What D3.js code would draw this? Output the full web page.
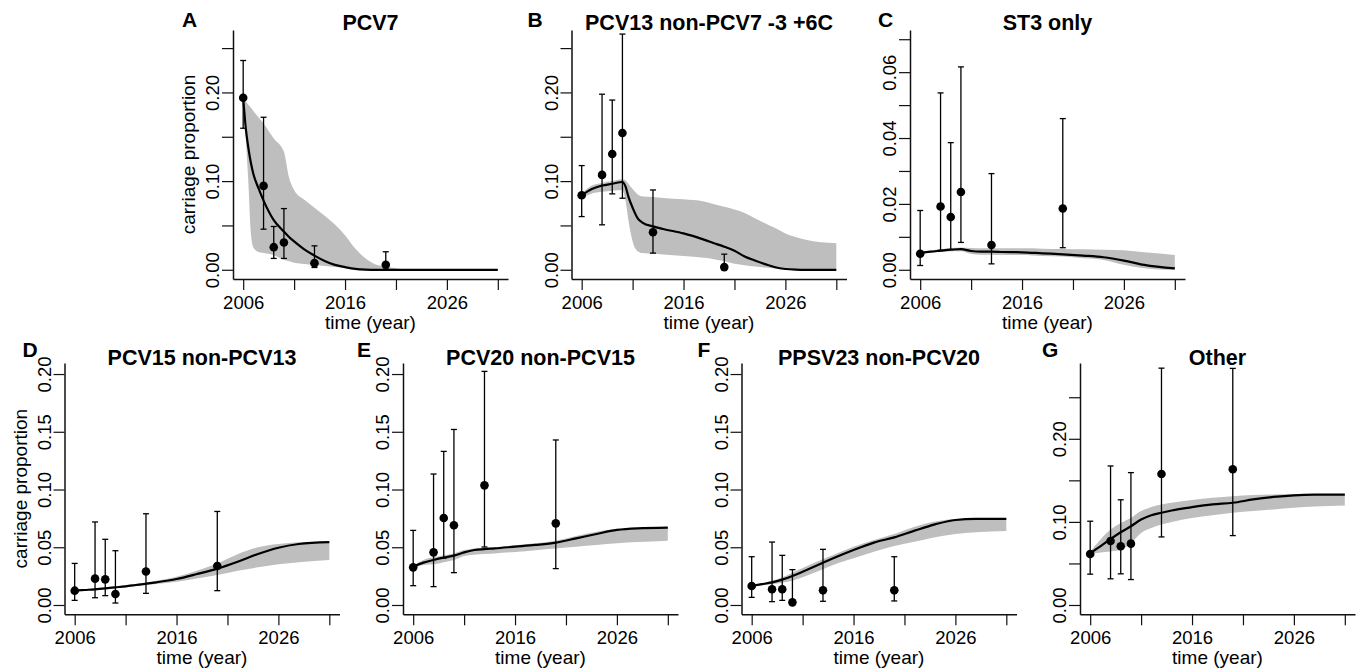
<!DOCTYPE html>
<html>
<head>
<meta charset="utf-8">
<script src="https://cdn.jsdelivr.net/npm/d3@7"></script>
<style>
  body { margin: 0; background: #fff; }
  text { font-family: "Liberation Sans", Arial, sans-serif; }
</style>
</head>
<body>
<div id="chart"></div>
<script>
// survey years with observed carriage
const obsYears = [2006, 2008, 2009, 2010, 2013, 2020];

// model time grids
const gridA = [2006, 2006.25, 2006.5, 2006.75, 2007, 2007.5, 2008, 2009, 2010, 2010.5, 2011, 2012, 2013, 2014, 2015, 2016, 2017, 2018, 2019, 2020, 2021, 2022, 2024, 2031];
const gridB = [2006, 2007, 2008, 2009, 2010, 2010.3, 2010.6, 2011, 2011.5, 2012, 2013, 2014, 2016, 2018, 2019, 2020, 2021, 2022, 2023, 2024, 2025, 2026, 2027, 2028, 2031];
const gridS = [2006, 2007, 2008, 2009, 2010, 2011, 2012, 2013, 2014, 2016, 2018, 2020, 2022, 2024, 2026, 2028, 2031];

// A: PCV7
const medA = [.194, .160, .138, .121, .108, .092, .078, .056, .043, .037, .032, .023, .016, .010, .0055, .003, .001, .0002, 0, 0, 0, 0, 0, 0];
const upA  = [.194, .190, .186, .183, .179, .172, .165, .148, .133, .104, .090, .079, .070, .061, .051, .039, .024, .013, .006, .0038, .0018, .0005, 0, 0];
const loA  = [.194, .150, .100, .042, .025, .020, .0188, .0165, .0113, .0095, .008, .0065, .0055, .0043, .003, .0019, .0012, .0006, .0001, 0, 0, 0, 0, 0];
const obsA = [.194, .0946, .0255, .0308, .0075, .0056];
const obsLoA = [.1596, .0458, .0128, .0128, .0026, .0008];
const obsHiA = [.236, .172, .0488, .069, .027, .0203];

// B: PCV13 non-PCV7 -3 +6C
const medB = [.084, .091, .0950, .0970, .099, .094, .082, .070, .058, .053, .049, .046, .041, .034, .030, .026, .0215, .015, .0105, .0064, .0028, .0009, .0002, 0, 0];
const upB  = [.086, .095, .098, .100, .102, .101, .097, .091, .085, .0826, .082, .081, .0795, .077, .074, .071, .068, .064, .058, .0525, .047, .041, .037, .034, .030];
const loB  = [.081, .086, .088, .089, .090, .078, .055, .032, .021, .0188, .018, .0172, .0155, .0135, .012, .0095, .0068, .005, .0036, .0025, .0015, .0008, .0003, 0, 0];
const obsB = [.0841, .107, .1306, .1543, .0424, .003];
const obsLoB = [.060, .0507, .0856, .0807, .0188, .0008];
const obsHiB = [.1175, .198, .1914, .2658, .090, .0176];

// C: ST3 only
const medC = [.0051, .0055, .0058, .0061, .0063, .0057, .0055, .0055, .0054, .0053, .0050, .0047, .0043, .0038, .0028, .0015, .0004];
const upC  = [.0052, .0058, .0062, .0066, .0068, .0066, .0065, .0065, .0065, .0065, .0064, .0063, .0062, .0061, .0059, .0053, .0045];
const loC  = [.0048, .0052, .0054, .0056, .0056, .0048, .0046, .0046, .0045, .0045, .0042, .0040, .0035, .0030, .0015, .0005, 0];
const obsC = [.00485, .0192, .016, .0236, .0075, .0186];
const obsLoC = [.0013, .0059, .0061, .0083, .0018, .0067];
const obsHiC = [.018, .0537, .0386, .0616, .0292, .0459];

// D: PCV15 non-PCV13
const medD = [.0124, .013, .0136, .0144, .0153, .0162, .0173, .0184, .0196, .0225, .0268, .0315, .0375, .0442, .0496, .0528, .0545];
const upD  = [.0128, .0137, .0144, .0152, .016, .017, .0182, .0195, .021, .0245, .0297, .036, .044, .050, .0528, .0543, .0548];
const loD  = [.012, .0125, .013, .0137, .0144, .0153, .0163, .0172, .0182, .0202, .023, .026, .0297, .0326, .0352, .037, .039];
const obsD = [.0124, .0228, .0222, .0095, .029, .0338];
const obsLoD = [.004, .0063, .0081, .0017, .0101, .0124];
const obsHiD = [.036, .0719, .0569, .047, .079, .081];

// E: PCV20 non-PCV15
const medE = [.0332, .0367, .039, .041, .0427, .0456, .0476, .0484, .049, .0505, .052, .054, .0577, .0615, .065, .0664, .067];
const upE  = [.034, .039, .0413, .043, .0447, .0476, .049, .0495, .050, .0517, .0535, .0557, .0597, .0635, .0658, .0667, .0672];
const loE  = [.032, .0346, .0352, .037, .039, .0424, .0435, .0441, .0447, .0459, .0475, .049, .0505, .052, .0534, .0545, .0557];
const obsE = [.0326, .0456, .0753, .069, .1036, .0707];
const obsLoE = [.0167, .0159, .0407, .028, .0502, .0315];
const obsHiE = [.0646, .1134, .133, .152, .2023, .1429];

// F: PPSV23 non-PCV20
const medF = [.0165, .018, .0196, .022, .0251, .0288, .0326, .0365, .0404, .0476, .054, .0586, .0644, .0698, .0736, .0745, .0745];
const upF  = [.017, .019, .021, .024, .028, .032, .036, .0397, .0433, .0505, .0563, .0615, .0678, .0722, .0745, .0748, .075];
const loF  = [.016, .0172, .018, .0193, .021, .024, .0274, .031, .0346, .0404, .0462, .051, .0548, .0586, .0615, .063, .064];
const obsF = [.0165, .0136, .0136, .0023, .0127, .0127];
const obsLoF = [.0066, .0029, .004, .0009, .0032, .0035];
const obsHiF = [.0418, .0545, .043, .0306, .0482, .0418];

// G: Other
const medG = [.0625, .0706, .0794, .0875, .0948, .1028, .108, .111, .1137, .1177, .121, .123, .127, .130, .132, .1327, .1327];
const upG  = [.064, .0786, .0907, .0988, .1048, .113, .118, .121, .123, .1262, .129, .131, .1323, .133, .1335, .1335, .1335];
const loG  = [.061, .0633, .0645, .0665, .0746, .0867, .0927, .0968, .100, .1048, .108, .111, .113, .115, .117, .1185, .1198];
const obsG = [.0613, .077, .0706, .0738, .1577, .1633];
const obsLoG = [.0371, .0315, .0375, .0306, .0819, .0835];
const obsHiG = [.1008, .1673, .1266, .1593, .285, .2847];

const xTicks = [2006, 2011, 2016, 2021, 2026, 2031];
const xLabels = [2006, 2016, 2026];

const panels = [
  { letter: "A", title: "PCV7", row: 0, col: 0, ylim: [0, 0.26], step: 0.05, every: 2, grid: gridA, med: medA, up: upA, lo: loA, obs: obsA, oLo: obsLoA, oHi: obsHiA, ylab: true, ldx: 51 },
  { letter: "B", title: "PCV13 non-PCV7 -3 +6C", row: 0, col: 1, ylim: [0, 0.26], step: 0.05, every: 2, grid: gridB, med: medB, up: upB, lo: loB, obs: obsB, oLo: obsLoB, oHi: obsHiB, ylab: false, ldx: 44 },
  { letter: "C", title: "ST3 only", row: 0, col: 2, ylim: [0, 0.07], step: 0.01, every: 2, grid: gridS, med: medC, up: upC, lo: loC, obs: obsC, oLo: obsLoC, oHi: obsHiC, ylab: false, ldx: 32 },
  { letter: "D", title: "PCV15 non-PCV13", row: 1, col: 0, ylim: [0, 0.2015], step: 0.05, every: 1, grid: gridS, med: medD, up: upD, lo: loD, obs: obsD, oLo: obsLoD, oHi: obsHiD, ylab: true, ldx: 42 },
  { letter: "E", title: "PCV20 non-PCV15", row: 1, col: 1, ylim: [0, 0.2015], step: 0.05, every: 1, grid: gridS, med: medE, up: upE, lo: loE, obs: obsE, oLo: obsLoE, oHi: obsHiE, ylab: false, ldx: 46 },
  { letter: "F", title: "PPSV23 non-PCV20", row: 1, col: 2, ylim: [0, 0.2015], step: 0.05, every: 1, grid: gridS, med: medF, up: upF, lo: loF, obs: obsF, oLo: obsLoF, oHi: obsHiF, ylab: false, ldx: 44 },
  { letter: "G", title: "Other", row: 1, col: 3, ylim: [0, 0.28], step: 0.05, every: 2, grid: gridS, med: medG, up: upG, lo: loG, obs: obsG, oLo: obsLoG, oHi: obsHiG, ylab: false, ldx: 38 }
];

const W = 1357, H = 670;
const rows = [
  { top: 30, bottom: 279, left: 233, titleY: 29.5, letterY: 26.5 },
  { top: 363, bottom: 614.3, left: 64.5, titleY: 365, letterY: 356.5 }
];
const pw = 275, spacing = 338.5;
const axisFont = "18.5px";

const svg = d3.select("#chart").append("svg")
  .attr("width", W).attr("height", H)
  .style("background", "#fff");

panels.forEach(p => {
  const r = rows[p.row];
  const left = r.left + p.col * spacing;
  const right = left + pw;
  const ext = 0.04 * (p.ylim[1] - p.ylim[0]);

  const x = d3.scaleLinear().domain([2005, 2032]).range([left, right]);
  const y = d3.scaleLinear().domain([p.ylim[0] - ext, p.ylim[1] + ext]).range([r.bottom, r.top]);

  const g = svg.append("g");
  const series = p.grid.map((t, i) => ({ t, m: p.med[i], u: p.up[i], l: p.lo[i] }));

  // uncertainty band
  g.append("path")
    .datum(series)
    .attr("fill", "#bebebe")
    .attr("d", d3.area().curve(d3.curveMonotoneX)
      .x(d => x(d.t)).y0(d => y(d.l)).y1(d => y(d.u)));

  // median line
  g.append("path")
    .datum(series)
    .attr("fill", "none")
    .attr("stroke", "#000")
    .attr("stroke-width", 2.2)
    .attr("d", d3.line().curve(d3.curveMonotoneX).x(d => x(d.t)).y(d => y(d.m)));

  // observations with error bars
  const pts = obsYears.map((t, i) => ({ t, v: p.obs[i], lo: p.oLo[i], hi: p.oHi[i] }));
  const eb = g.append("g").attr("stroke", "#000").attr("stroke-width", 1.3);
  eb.selectAll("line.v").data(pts).join("line")
    .attr("x1", d => x(d.t)).attr("x2", d => x(d.t))
    .attr("y1", d => y(d.lo)).attr("y2", d => y(d.hi));
  eb.selectAll("line.hi").data(pts).join("line")
    .attr("x1", d => x(d.t) - 3).attr("x2", d => x(d.t) + 3)
    .attr("y1", d => y(d.hi)).attr("y2", d => y(d.hi));
  eb.selectAll("line.lo").data(pts).join("line")
    .attr("x1", d => x(d.t) - 3).attr("x2", d => x(d.t) + 3)
    .attr("y1", d => y(d.lo)).attr("y2", d => y(d.lo));
  g.selectAll("circle").data(pts).join("circle")
    .attr("cx", d => x(d.t)).attr("cy", d => y(d.v))
    .attr("r", 4.3).attr("fill", "#000");

  // axes (domain paths form the L-shaped box)
  const xa = g.append("g")
    .attr("transform", `translate(0,${r.bottom})`)
    .call(d3.axisBottom(x).tickValues(xTicks).tickSize(11).tickSizeOuter(0).tickPadding(6)
      .tickFormat(d => xLabels.includes(d) ? d : ""));

  const nT = Math.floor(p.ylim[1] / p.step + 1e-6);
  const yTicks = d3.range(nT + 1).map(i => +(i * p.step).toFixed(4));
  const ya = g.append("g")
    .attr("transform", `translate(${left},0)`)
    .call(d3.axisLeft(y).tickValues(yTicks).tickSize(11).tickSizeOuter(0)
      .tickFormat((d, i) => i % p.every === 0 ? d3.format(".2f")(d) : ""));
  ya.selectAll(".tick text")
    .attr("transform", "rotate(-90)")
    .attr("x", 0).attr("y", -14).attr("dy", 0)
    .attr("text-anchor", "middle");

  [xa, ya].forEach(a => {
    a.select(".domain").attr("stroke", "#111").attr("stroke-width", 1.5);
    a.selectAll(".tick line").attr("stroke", "#111").attr("stroke-width", 1.2);
    a.selectAll(".tick text").attr("fill", "#000").style("font-size", axisFont)
      .style("font-family", "'Liberation Sans', Arial, sans-serif");
  });

  // texts
  g.append("text")
    .attr("x", (left + right) / 2).attr("y", r.bottom + 50)
    .attr("text-anchor", "middle").style("font-size", "19px")
    .text("time (year)");
  if (p.ylab) {
    const cy = (r.top + r.bottom) / 2;
    g.append("text")
      .attr("transform", `translate(${left - 38},${cy}) rotate(-90)`)
      .attr("text-anchor", "middle").style("font-size", "19px")
      .text("carriage proportion");
  }
  g.append("text")
    .attr("x", (left + right) / 2).attr("y", r.titleY)
    .attr("text-anchor", "middle").style("font-size", "21.5px").style("font-weight", "bold")
    .text(p.title);
  g.append("text")
    .attr("x", left - p.ldx).attr("y", r.letterY)
    .style("font-size", "21px").style("font-weight", "bold")
    .text(p.letter);
});
</script>
</body>
</html>
